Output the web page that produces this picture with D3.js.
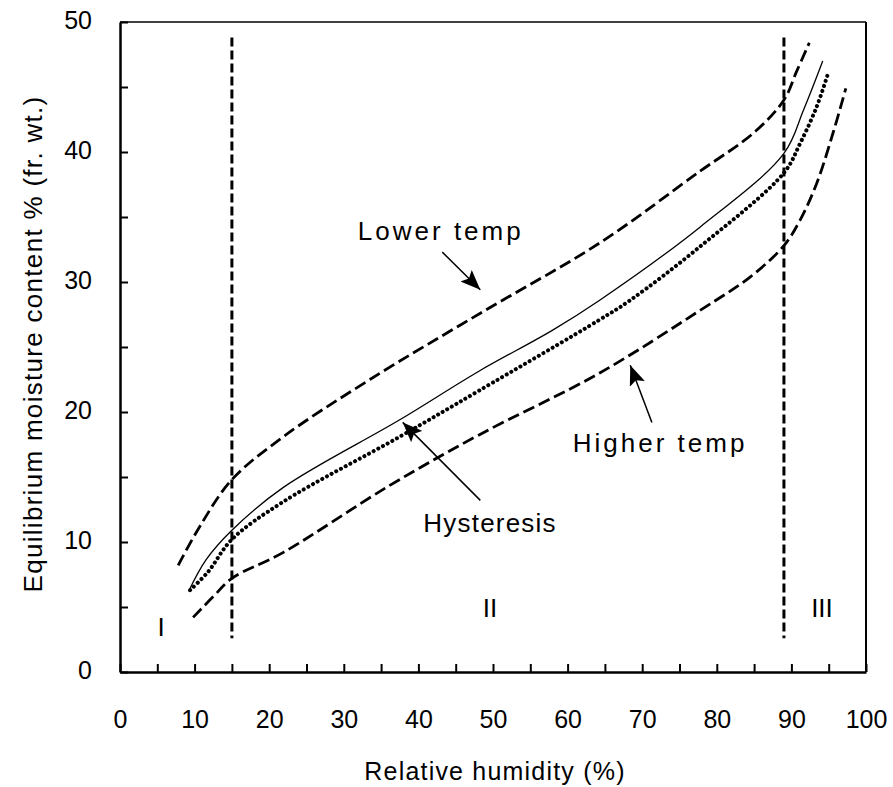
<!DOCTYPE html>
<html>
<head>
<meta charset="utf-8">
<script src="https://cdn.jsdelivr.net/npm/d3@7"></script>
<style>
  body { margin: 0; background: #fff; }
  svg text { font-family: "Liberation Sans", Arial, sans-serif; fill: #000; }
</style>
</head>
<body>
<script>
  // curves: [relative humidity %, moisture %]
  var lowerTemp = [[7.8, 8.2], [10.7, 11.2], [15, 14.8], [21.9, 18.1], [33.5, 22.5], [48.3, 27.6],
    [64.3, 33.0], [77.7, 38.5], [85, 41.5], [89, 44.0], [90.7, 46.2], [92.4, 48.4]];
  var desorption = [[9.2, 6.2], [11.5, 8.6], [15, 10.9], [21.9, 14.2], [37.5, 19.4], [48, 23.1],
    [58, 26.3], [64.3, 28.6], [77.7, 34.2], [89, 39.9], [91.6, 43.2], [94.2, 47.0]];
  var adsorption = [[9.4, 6.3], [11.8, 7.7], [15, 10.2], [21.9, 13.1], [37.5, 18.1], [48, 21.6],
    [64.3, 27.1], [68.4, 28.6], [77.7, 32.7], [89, 38.4], [91.2, 40.7],
    [93.4, 43.5], [95, 46.2]];
  var higherTemp = [[9.8, 4.2], [12.5, 5.8], [15, 7.2], [21.9, 9.2], [36, 14.3], [48, 18.2],
    [64.3, 23.0], [77.7, 27.8], [84.5, 30.4], [89, 32.8], [91.2, 34.8], [93.4, 37.6], [95.6, 41.5], [97.3, 44.9]];

  var regionLines = [15, 89];
  var regionSpan = [2.6, 48.8];
  var regionLabels = [{text: "I", x: 5.5, y: 2.8}, {text: "II", x: 49.6, y: 4.2}, {text: "III", x: 94.1, y: 4.2}];

  var notes = [
    {text: "Lower temp", x: 43, y: 33.2, spacing: 3, from: [43.2, 32.3], to: [48.3, 29.4]},
    {text: "Hysteresis", x: 49.6, y: 10.8, spacing: 1.2, from: [48.3, 13.2], to: [37.9, 19.2]},
    {text: "Higher temp", x: 72.4, y: 16.9, spacing: 3, from: [71.3, 19.2], to: [68.4, 23.6]}
  ];

  var xTicks = d3.range(0, 101, 5);
  var yTicks = d3.range(0, 51, 5);

  var width = 893, height = 787;
  var x = d3.scaleLinear().domain([0, 100]).range([120, 866]);
  var y = d3.scaleLinear().domain([0, 50]).range([672, 22]);

  var svg = d3.select("body").append("svg")
    .attr("width", width)
    .attr("height", height);

  svg.append("defs").append("marker")
    .attr("id", "head")
    .attr("markerUnits", "userSpaceOnUse")
    .attr("viewBox", "0 0 20 16")
    .attr("refX", 20).attr("refY", 8)
    .attr("markerWidth", 20).attr("markerHeight", 16)
    .attr("orient", "auto")
    .append("path")
    .attr("d", "M0,0 L20,8 L0,16 L4,8 Z")
    .attr("fill", "#000");

  // frame
  svg.append("line").attr("x1", x(0)).attr("x2", x(100)).attr("y1", y(50)).attr("y2", y(50))
    .attr("stroke", "#000").attr("stroke-width", 1.5);
  svg.append("line").attr("x1", x(100)).attr("x2", x(100)).attr("y1", y(50)).attr("y2", y(0))
    .attr("stroke", "#000").attr("stroke-width", 2);

  // x axis
  var xAxis = d3.axisBottom(x).tickValues(xTicks).tickSize(-8).tickSizeOuter(0).tickPadding(38)
    .tickFormat(function(d) { return d % 10 === 0 ? d : ""; });
  var gx = svg.append("g").attr("transform", "translate(0," + y(0) + ")").call(xAxis);
  gx.select(".domain").attr("stroke-width", 2.5);
  gx.selectAll(".tick line").attr("stroke-width", 2);
  gx.selectAll("text").attr("font-size", 25).attr("font-family", null);

  // y axis
  var yAxis = d3.axisLeft(y).tickValues(yTicks).tickSize(-8).tickSizeOuter(0).tickPadding(28)
    .tickFormat(function(d) { return d % 10 === 0 ? d : ""; });
  var gy = svg.append("g").attr("transform", "translate(" + x(0) + ",0)").call(yAxis);
  gy.select(".domain").attr("stroke-width", 2.5);
  gy.selectAll(".tick line").attr("stroke-width", 2);
  gy.selectAll("text").attr("font-size", 25).attr("font-family", null).attr("dy", "0.25em");

  svg.append("text")
    .attr("x", 495).attr("y", 780)
    .attr("text-anchor", "middle")
    .attr("font-size", 25)
    .attr("letter-spacing", 1.2)
    .text("Relative humidity (%)");

  svg.append("text")
    .attr("transform", "translate(42,344) rotate(-90)")
    .attr("text-anchor", "middle")
    .attr("font-size", 26)
    .attr("letter-spacing", 1.3)
    .text("Equilibrium moisture content % (fr. wt.)");

  // region boundaries
  svg.selectAll(".region")
    .data(regionLines)
    .enter().append("line")
    .attr("class", "region")
    .attr("x1", function(d) { return x(d); })
    .attr("x2", function(d) { return x(d); })
    .attr("y1", y(regionSpan[1]))
    .attr("y2", y(regionSpan[0]))
    .attr("stroke", "#000")
    .attr("stroke-width", 3)
    .attr("stroke-dasharray", "9,4");

  svg.selectAll(".roman")
    .data(regionLabels)
    .enter().append("text")
    .attr("class", "roman")
    .attr("x", function(d) { return x(d.x); })
    .attr("y", function(d) { return y(d.y); })
    .attr("text-anchor", "middle")
    .attr("font-size", 26)
    .text(function(d) { return d.text; });

  var line = d3.line()
    .x(function(d) { return x(d[0]); })
    .y(function(d) { return y(d[1]); })
    .curve(d3.curveCatmullRom.alpha(0.5));

  var series = [
    {data: lowerTemp, w: 2.8, dash: "12,5", cap: "butt"},
    {data: desorption, w: 1.3, dash: null, cap: "butt"},
    {data: adsorption, w: 4, dash: "0.1,5.2", cap: "round"},
    {data: higherTemp, w: 2.8, dash: "12,5", cap: "butt"}
  ];

  svg.selectAll(".curve")
    .data(series)
    .enter().append("path")
    .attr("class", "curve")
    .attr("d", function(d) { return line(d.data); })
    .attr("fill", "none")
    .attr("stroke", "#000")
    .attr("stroke-width", function(d) { return d.w; })
    .attr("stroke-linecap", function(d) { return d.cap; })
    .attr("stroke-dasharray", function(d) { return d.dash; });

  // annotations
  svg.selectAll(".arrow")
    .data(notes)
    .enter().append("line")
    .attr("class", "arrow")
    .attr("x1", function(d) { return x(d.from[0]); })
    .attr("y1", function(d) { return y(d.from[1]); })
    .attr("x2", function(d) { return x(d.to[0]); })
    .attr("y2", function(d) { return y(d.to[1]); })
    .attr("stroke", "#000")
    .attr("stroke-width", 1.5)
    .attr("marker-end", "url(#head)");

  svg.selectAll(".note")
    .data(notes)
    .enter().append("text")
    .attr("class", "note")
    .attr("x", function(d) { return x(d.x); })
    .attr("y", function(d) { return y(d.y); })
    .attr("text-anchor", "middle")
    .attr("font-size", 26)
    .attr("letter-spacing", function(d) { return d.spacing; })
    .text(function(d) { return d.text; });
</script>
</body>
</html>
